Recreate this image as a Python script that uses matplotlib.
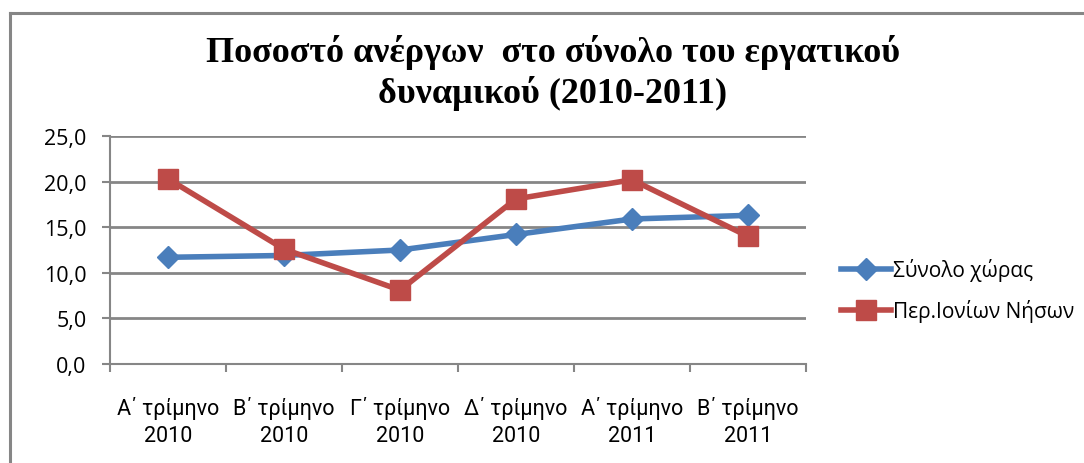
import matplotlib
matplotlib.use("Agg")
import matplotlib.pyplot as plt
from matplotlib.ticker import FuncFormatter, FixedLocator
import numpy as np

categories = ["Α΄ τρίμηνο\n2010", "Β΄ τρίμηνο\n2010", "Γ΄ τρίμηνο\n2010",
              "Δ΄ τρίμηνο\n2010", "Α΄ τρίμηνο\n2011", "Β΄ τρίμηνο\n2011"]
country = [11.7, 11.9, 12.5, 14.2, 15.9, 16.3]
ionian = [20.3, 12.6, 8.1, 18.1, 20.2, 14.0]
series_names = ["Σύνολο χώρας", "Περ.Ιονίων Νήσων"]

blue = "#4a7ebb"
red = "#be4b48"
grey = "#868686"
lab_font = "Open Sans"
cat_font = "Roboto"

fig = plt.figure(figsize=(10.84, 4.64), dpi=100)

# chart border: background axes showing only left and top edges
bg = fig.add_axes([10/1084, -0.2, 1.0, 1.2 - 14/464], zorder=-1)
bg.set_facecolor("none")
bg.set_xticks([])
bg.set_yticks([])
for s in ["right", "bottom"]:
    bg.spines[s].set_visible(False)
for s in ["left", "top"]:
    bg.spines[s].set_color(grey)
    bg.spines[s].set_linewidth(2.2)

ax = fig.add_axes([110/1084, 1 - 365/464, (806-110)/1084, (365-137)/464])

x = np.arange(len(categories))
ax.plot(x, country, color=blue, lw=4, marker="D", ms=11, label=series_names[0])
ax.plot(x, ionian, color=red, lw=4, marker="s", ms=14, label=series_names[1])

ax.set_xlim(-0.5, len(categories) - 0.5)
ax.set_ylim(0, 25)
ax.set_yticks(np.arange(0, 26, 5))
ax.yaxis.set_major_formatter(FuncFormatter(lambda v, p: f"{v:.1f}".replace(".", ",")))
ax.grid(axis="y", color=grey, lw=2)
ax.set_axisbelow(True)

ax.set_xticks(x)
ax.set_xticklabels(categories, fontsize=15.5, family=cat_font, linespacing=1.4)
ax.xaxis.set_minor_locator(FixedLocator(np.arange(-0.5, len(categories), 1)))
ax.tick_params(axis="x", which="major", length=0, pad=23)
ax.tick_params(axis="x", which="minor", length=6, color=grey, width=1.5)
ax.tick_params(axis="y", length=6, color=grey, width=1.5, labelsize=15.5, pad=11)
for lbl in ax.get_yticklabels():
    lbl.set_family(lab_font)

for s in ["top", "right"]:
    ax.spines[s].set_visible(False)
for s in ["left", "bottom"]:
    ax.spines[s].set_color(grey)
    ax.spines[s].set_linewidth(1.5)

fig.text(553/1084, 1 - 73/464, "Ποσοστό ανέργων  στο σύνολο του εργατικού\nδυναμικού (2010-2011)",
         ha="center", va="center", fontsize=26, fontweight="bold",
         family="Liberation Serif", linespacing=1.2)

fig.legend(loc="center left", bbox_to_anchor=(822/1084, 1 - 291/464), frameon=False,
           prop={"family": lab_font, "size": 15}, handlelength=2.4,
           labelspacing=0.85, handletextpad=0.1)

fig.savefig("out.png", dpi=100)
